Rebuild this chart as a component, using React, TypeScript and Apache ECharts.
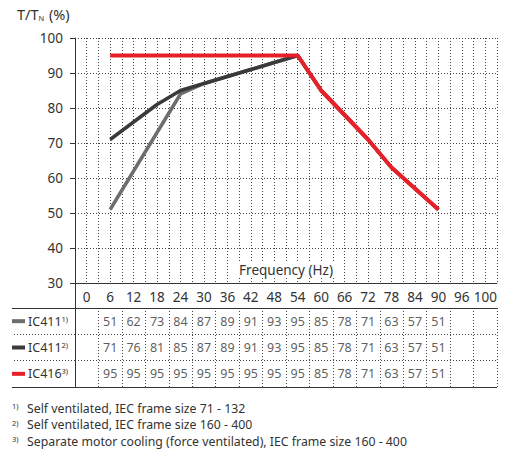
import React, { useEffect, useRef } from 'react';
import * as echarts from 'echarts';

// ---- data ----
const frequencies = ['0', '6', '12', '18', '24', '30', '36', '42', '48', '54', '60', '66', '72', '78', '84', '90', '96', '100'];
const dataFrequencies = ['6', '12', '18', '24', '30', '36', '42', '48', '54', '60', '66', '72', '78', '84', '90'];
const ic411Small = [51, 62, 73, 84, 87, 89, 91, 93, 95, 85, 78, 71, 63, 57, 51];
const ic411Large = [71, 76, 81, 85, 87, 89, 91, 93, 95, 85, 78, 71, 63, 57, 51];
const ic416 = [95, 95, 95, 95, 95, 95, 95, 95, 95, 85, 78, 71, 63, 57, 51];
const rowNames = ['IC411', 'IC411', 'IC416'];
const rowNotes = ['1)', '2)', '3)'];
const footnotes = [
  'Self ventilated, IEC frame size 71 - 132',
  'Self ventilated, IEC frame size 160 - 400',
  'Separate motor cooling (force ventilated), IEC frame size 160 - 400',
];
const yMin = 30;
const yMax = 100;
const yStep = 10;

const FONT = '"Noto Sans", "Open Sans", sans-serif';
const TXT = '#333333';
const colors = ['#6e6e6e', '#3a3a3a', '#e8202a'];
const rows = [ic411Small, ic411Large, ic416];

function fullSeries(vals: number[]) {
  return frequencies.map((f) => {
    const i = dataFrequencies.indexOf(f);
    return i >= 0 ? vals[i] : null;
  });
}

export default function App() {
  const ref = useRef<HTMLDivElement>(null);
  useEffect(() => {
    if (!ref.current) return;
    const chart = echarts.init(ref.current, null, { renderer: 'svg' });

    const tableData: any[] = [];
    rows.forEach((vals, r) => {
      vals.forEach((v, i) => {
        tableData.push([frequencies.indexOf(dataFrequencies[i]), r, v]);
      });
    });

    const dotted = { color: '#444', width: 1, type: [1, 2] as any };

    const option: any = {
      animation: false,
      textStyle: { fontFamily: FONT, color: TXT },
      grid: [
        { left: 75, top: 38, width: 422, height: 245 },
        { left: 75, top: 308, width: 422, height: 79 },
      ],
      xAxis: [
        {
          type: 'category',
          gridIndex: 0,
          data: frequencies,
          boundaryGap: true,
          axisLine: { lineStyle: { color: TXT, width: 1 } },
          axisTick: { alignWithLabel: true, length: 5, interval: 0, lineStyle: { color: TXT } },
          axisLabel: { fontSize: 13.5, color: TXT, margin: 7, interval: 0, fontFamily: FONT },
          splitLine: { show: false },
          name: 'Frequency (Hz)',
          nameLocation: 'middle',
          nameGap: -21,
          nameTextStyle: { fontSize: 13.5, color: TXT, fontFamily: FONT, backgroundColor: '#fff', padding: [1, 2] },
          z: 5,
        },
        {
          type: 'value',
          gridIndex: 0,
          position: 'top',
          min: 0,
          max: frequencies.length * 2,
          interval: 1,
          axisLine: { show: false },
          axisTick: { show: false },
          axisLabel: { show: false },
          splitLine: { show: true, lineStyle: dotted },
        },
        {
          type: 'category',
          gridIndex: 1,
          data: frequencies,
          boundaryGap: true,
          axisLine: { show: false },
          axisTick: { show: false },
          axisLabel: { show: false },
          splitLine: { show: true, interval: 0, lineStyle: dotted },
        },
      ],
      yAxis: [
        {
          type: 'value',
          gridIndex: 0,
          min: yMin,
          max: yMax,
          interval: yStep,
          axisLine: { show: true, lineStyle: { color: TXT, width: 1 } },
          axisTick: { show: true, length: 5, lineStyle: { color: TXT } },
          axisLabel: { fontSize: 13.5, color: TXT, margin: 12, fontFamily: FONT },
          splitLine: { show: true, lineStyle: dotted },
        },
        {
          type: 'category',
          gridIndex: 1,
          inverse: true,
          data: rowNames.map((n, i) => n + ' ' + rowNotes[i]),
          boundaryGap: true,
          axisLine: { show: true, lineStyle: { color: TXT, width: 1 } },
          axisTick: { show: true, length: 63, interval: 0, lineStyle: dotted },
          axisLabel: {
            align: 'left',
            margin: 63,
            interval: 0,
            formatter: (_v: string, i: number) => `{sw${i}|}{t|${rowNames[i]}}{s|${rowNotes[i]}}`,
            rich: {
              sw0: { backgroundColor: colors[0], width: 13, height: 4 },
              sw1: { backgroundColor: colors[1], width: 13, height: 4 },
              sw2: { backgroundColor: colors[2], width: 13, height: 4 },
              t: { fontSize: 12.5, color: TXT, fontFamily: FONT, padding: [0, 0, 0, 3] },
              s: { fontSize: 7.5, color: TXT, fontFamily: FONT, verticalAlign: 'top' },
            },
          },
          splitLine: { show: true, interval: 0, lineStyle: dotted },
        },
      ],
      series: [
        {
          name: 'IC411 1)',
          type: 'line',
          xAxisIndex: 0,
          yAxisIndex: 0,
          data: fullSeries(ic411Small),
          symbol: 'none',
          lineStyle: { color: colors[0], width: 3.5 },
          z: 3,
        },
        {
          name: 'IC411 2)',
          type: 'line',
          xAxisIndex: 0,
          yAxisIndex: 0,
          data: fullSeries(ic411Large),
          symbol: 'none',
          lineStyle: { color: colors[1], width: 3.5 },
          z: 4,
        },
        {
          name: 'IC416 3)',
          type: 'line',
          xAxisIndex: 0,
          yAxisIndex: 0,
          data: fullSeries(ic416),
          symbol: 'none',
          lineStyle: { color: colors[2], width: 4 },
          z: 5,
        },
        {
          name: 'table',
          type: 'scatter',
          xAxisIndex: 2,
          yAxisIndex: 1,
          data: tableData,
          symbolSize: 1,
          itemStyle: { color: 'rgba(0,0,0,0)' },
          silent: true,
          label: {
            show: true,
            position: 'inside',
            formatter: (p: any) => String(p.value[2]),
            fontSize: 12.5,
            color: TXT,
            fontFamily: FONT,
          },
        },
      ],
      graphic: [
        {
          type: 'text',
          z: 100,
          style: {
            x: 17,
            y: 14,
            verticalAlign: 'middle',
            text: '{a|T/T}{b|N}{a| (%)}',
            rich: {
              a: { fontSize: 14.5, fill: TXT, fontFamily: FONT },
              b: { fontSize: 7.5, fill: TXT, fontFamily: FONT, verticalAlign: 'bottom', padding: [0, 1, 0, 0] },
            },
          },
        },
        { type: 'line', z: 100, shape: { x1: 75.5, y1: 283, x2: 75.5, y2: 308 }, style: { stroke: TXT, lineWidth: 1 } },
        { type: 'line', z: 100, shape: { x1: 12, y1: 308.5, x2: 497, y2: 308.5 }, style: { stroke: TXT, lineWidth: 1 } },
        { type: 'line', z: 100, shape: { x1: 12, y1: 387.5, x2: 497, y2: 387.5 }, style: { stroke: TXT, lineWidth: 1 } },
        ...footnotes.map((t, i) => ({
          type: 'text',
          z: 100,
          style: {
            x: 12,
            y: 408 + i * 16.5,
            verticalAlign: 'middle',
            text: `{s|${rowNotes[i]}}{t|${t}}`,
            rich: {
              s: { fontSize: 7.5, fill: TXT, fontFamily: FONT, verticalAlign: 'top', width: 15 },
              t: { fontSize: 12.3, fill: TXT, fontFamily: FONT },
            },
          },
        })),
      ],
    };
    chart.setOption(option);
    return () => chart.dispose();
  }, []);
  return <div ref={ref} style={{ position: 'fixed', left: 0, top: 0, width: 514, height: 454, background: '#fff' }} />;
}
